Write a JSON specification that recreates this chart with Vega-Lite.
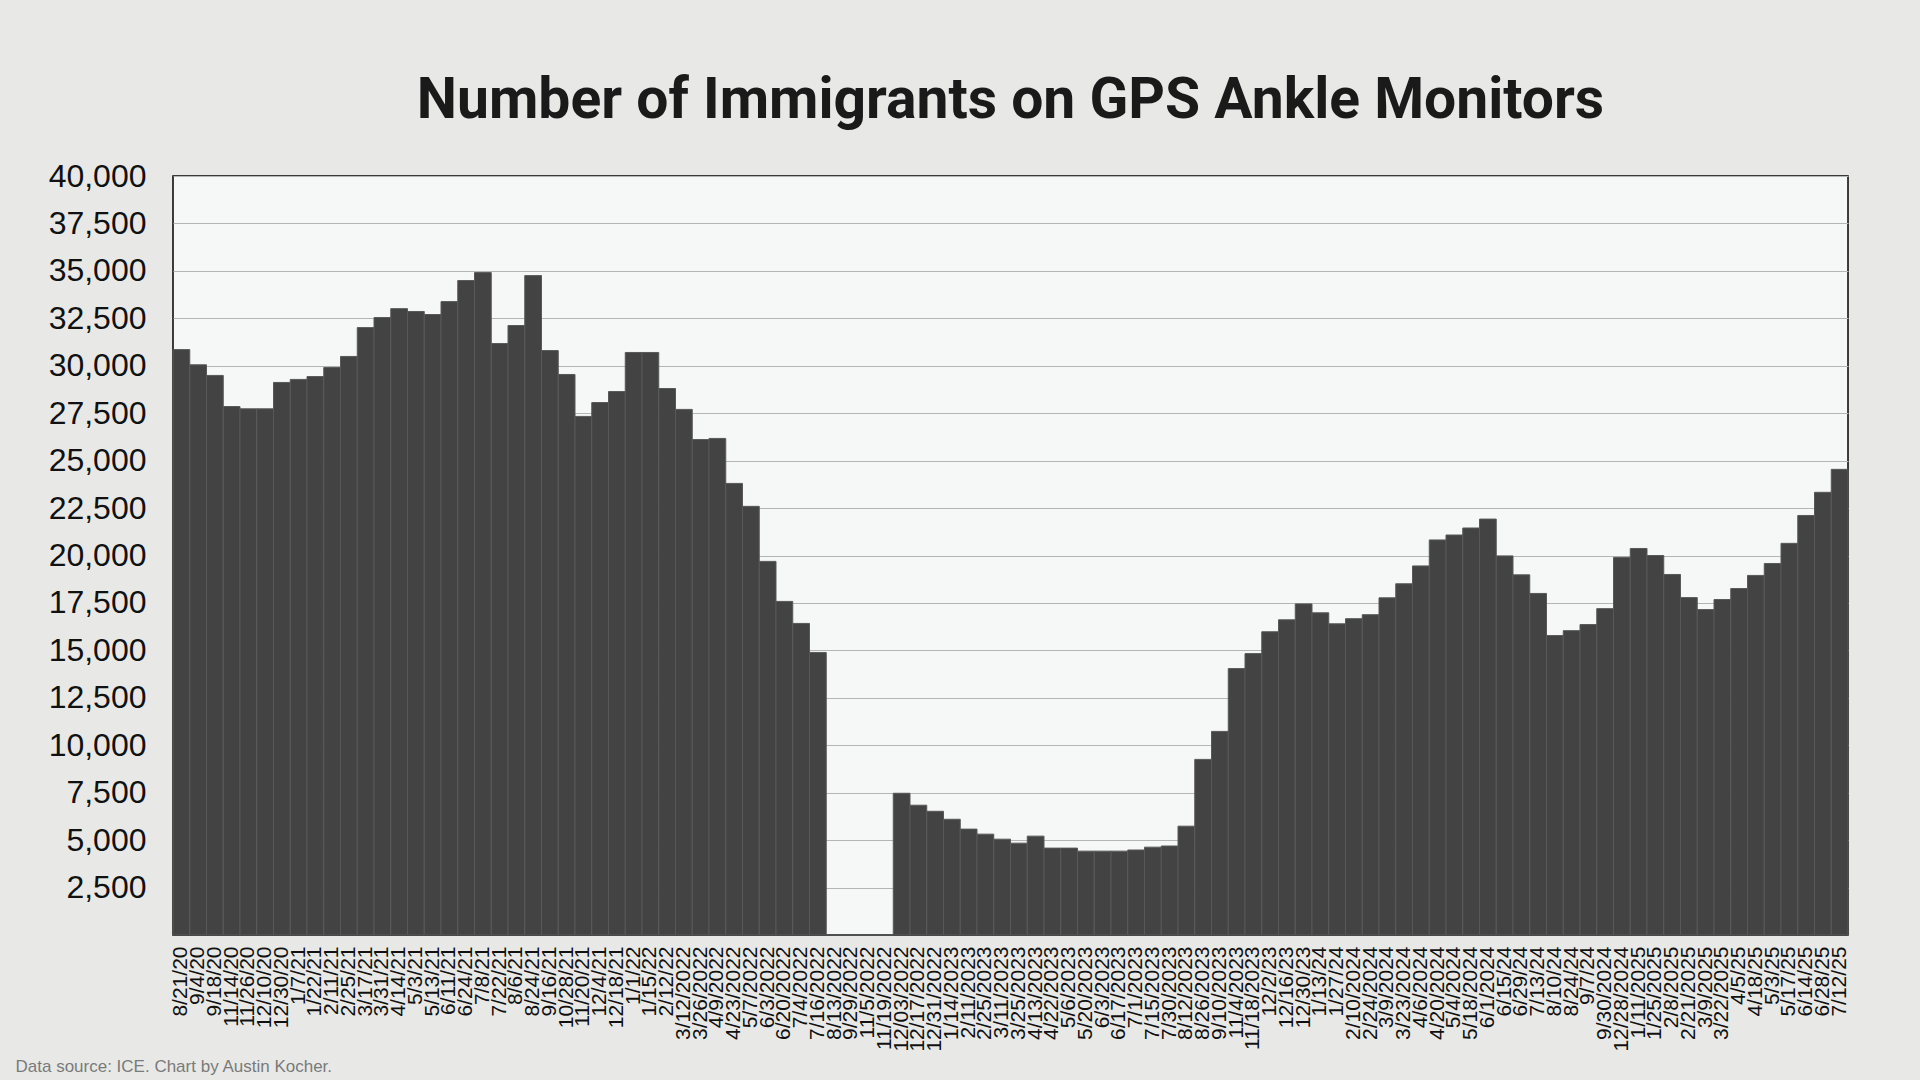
{
  "$schema": "https://vega.github.io/schema/vega-lite/v6.json",
  "autosize": {"type": "none"},
  "padding": {"left": 173, "top": 176, "right": 72, "bottom": 145},
  "width": 1675,
  "height": 759,
  "background": "#e8e9e7",
  "title": {
    "text": "Number of Immigrants on GPS Ankle Monitors",
    "font": "Roboto",
    "fontSize": 57,
    "fontWeight": "bold",
    "color": "#1a1a1a",
    "anchor": "middle",
    "frame": "group",
    "baseline": "alphabetic",
    "offset": -15
  },
  "config": {
    "view": {"fill": "#f6f8f7", "stroke": "#000000", "strokeWidth": 1.5},
    "scale": {"bandPaddingInner": 0, "bandPaddingOuter": 0}
  },
  "data": {
    "values": [
      {"date": "8/21/20", "count": 30850},
      {"date": "9/4/20", "count": 30050},
      {"date": "9/18/20", "count": 29490},
      {"date": "11/14/20", "count": 27850},
      {"date": "11/26/20", "count": 27730},
      {"date": "12/10/20", "count": 27730},
      {"date": "12/30/20", "count": 29120},
      {"date": "1/7/21", "count": 29280},
      {"date": "1/22/21", "count": 29430},
      {"date": "2/11/21", "count": 29910},
      {"date": "2/25/21", "count": 30490},
      {"date": "3/17/21", "count": 32010},
      {"date": "3/31/21", "count": 32540},
      {"date": "4/14/21", "count": 33010},
      {"date": "5/3/21", "count": 32860},
      {"date": "5/13/21", "count": 32700},
      {"date": "6/11/21", "count": 33380},
      {"date": "6/24/21", "count": 34490},
      {"date": "7/8/21", "count": 34910},
      {"date": "7/22/21", "count": 31170},
      {"date": "8/6/21", "count": 32120},
      {"date": "8/24/21", "count": 34750},
      {"date": "9/16/21", "count": 30800},
      {"date": "10/28/21", "count": 29540},
      {"date": "11/20/21", "count": 27330},
      {"date": "12/4/21", "count": 28060},
      {"date": "12/18/21", "count": 28640},
      {"date": "1/1/22", "count": 30700},
      {"date": "1/15/22", "count": 30700},
      {"date": "2/12/22", "count": 28800},
      {"date": "3/12/2022", "count": 27700},
      {"date": "3/26/2022", "count": 26110},
      {"date": "4/9/2022", "count": 26170},
      {"date": "4/23/2022", "count": 23800},
      {"date": "5/7/2022", "count": 22590},
      {"date": "6/3/2022", "count": 19690},
      {"date": "6/20/2022", "count": 17580},
      {"date": "7/4/2022", "count": 16420},
      {"date": "7/16/2022", "count": 14890},
      {"date": "8/13/2022", "count": null},
      {"date": "9/29/2022", "count": null},
      {"date": "11/5/2022", "count": null},
      {"date": "11/19/2022", "count": null},
      {"date": "12/03/2022", "count": 7470},
      {"date": "12/17/2022", "count": 6840},
      {"date": "12/31/2022", "count": 6520},
      {"date": "1/14/2023", "count": 6100},
      {"date": "2/11/2023", "count": 5580},
      {"date": "2/25/2023", "count": 5315},
      {"date": "3/11/2023", "count": 5050},
      {"date": "3/25/2023", "count": 4840},
      {"date": "4/13/2023", "count": 5210},
      {"date": "4/22/2023", "count": 4580},
      {"date": "5/6/2023", "count": 4580},
      {"date": "5/20/2023", "count": 4420},
      {"date": "6/3/2023", "count": 4420},
      {"date": "6/17/2023", "count": 4420},
      {"date": "7/1/2023", "count": 4480},
      {"date": "7/15/2023", "count": 4630},
      {"date": "7/30/2023", "count": 4690},
      {"date": "8/12/2023", "count": 5735},
      {"date": "8/26/2023", "count": 9255},
      {"date": "9/10/2023", "count": 10730},
      {"date": "11/4/2023", "count": 14040},
      {"date": "11/18/2023", "count": 14830},
      {"date": "12/2/23", "count": 15980},
      {"date": "12/16/23", "count": 16610},
      {"date": "12/30/23", "count": 17450},
      {"date": "1/13/24", "count": 16980},
      {"date": "1/27/24", "count": 16400},
      {"date": "2/10/2024", "count": 16670},
      {"date": "2/24/2024", "count": 16880},
      {"date": "3/9/2024", "count": 17770},
      {"date": "3/23/2024", "count": 18510},
      {"date": "4/6/2024", "count": 19450},
      {"date": "4/20/2024", "count": 20820},
      {"date": "5/4/2024", "count": 21080},
      {"date": "5/18/2024", "count": 21450},
      {"date": "6/1/2024", "count": 21920},
      {"date": "6/15/24", "count": 19980},
      {"date": "6/29/24", "count": 18980},
      {"date": "7/13/24", "count": 18000},
      {"date": "8/10/24", "count": 15780},
      {"date": "8/24/24", "count": 16040},
      {"date": "9/7/24", "count": 16360},
      {"date": "9/30/2024", "count": 17200},
      {"date": "12/28/2024", "count": 19900},
      {"date": "1/11/2025", "count": 20370},
      {"date": "1/25/2025", "count": 20000},
      {"date": "2/8/2025", "count": 19000},
      {"date": "2/21/2025", "count": 17780},
      {"date": "3/9/2025", "count": 17150},
      {"date": "3/22/2025", "count": 17680},
      {"date": "4/5/25", "count": 18260},
      {"date": "4/18/25", "count": 18950},
      {"date": "5/3/25", "count": 19580},
      {"date": "5/17/25", "count": 20640},
      {"date": "6/14/25", "count": 22110},
      {"date": "6/28/25", "count": 23330},
      {"date": "7/12/25", "count": 24540}
    ]
  },
  "mark": {"type": "bar", "color": "#434343", "stroke": "#585858", "strokeWidth": 1, "invalid": "show"},
  "encoding": {
    "x": {
      "field": "date",
      "type": "nominal",
      "sort": null,
      "axis": {
        "title": "Data source: ICE. Chart by Austin Kocher.",
        "titleFont": "Liberation Sans",
        "titleFontSize": 17,
        "titleFontWeight": "normal",
        "titleColor": "#7a7a7a",
        "titleAnchor": "start",
        "titleAlign": "left",
        "titleBaseline": "alphabetic",
        "titleX": -158,
        "titleY": 136,
        "labelAngle": -90,
        "labelFont": "Liberation Sans",
        "labelFontSize": 21,
        "labelColor": "#111111",
        "labelPadding": 11,
        "labelOverlap": false,
        "labelBound": false,
        "ticks": false,
        "domain": false,
        "grid": false
      }
    },
    "y": {
      "field": "count",
      "type": "quantitative",
      "scale": {"domain": [0, 40000], "nice": false},
      "axis": {
        "title": null,
        "values": [2500, 5000, 7500, 10000, 12500, 15000, 17500, 20000, 22500, 25000, 27500, 30000, 32500, 35000, 37500, 40000],
        "format": ",d",
        "grid": true,
        "gridColor": "#b5b5b5",
        "gridWidth": 1,
        "ticks": false,
        "domain": false,
        "labelFont": "Liberation Sans",
        "labelFontSize": 32,
        "labelColor": "#111111",
        "labelPadding": 27
      }
    }
  }
}
